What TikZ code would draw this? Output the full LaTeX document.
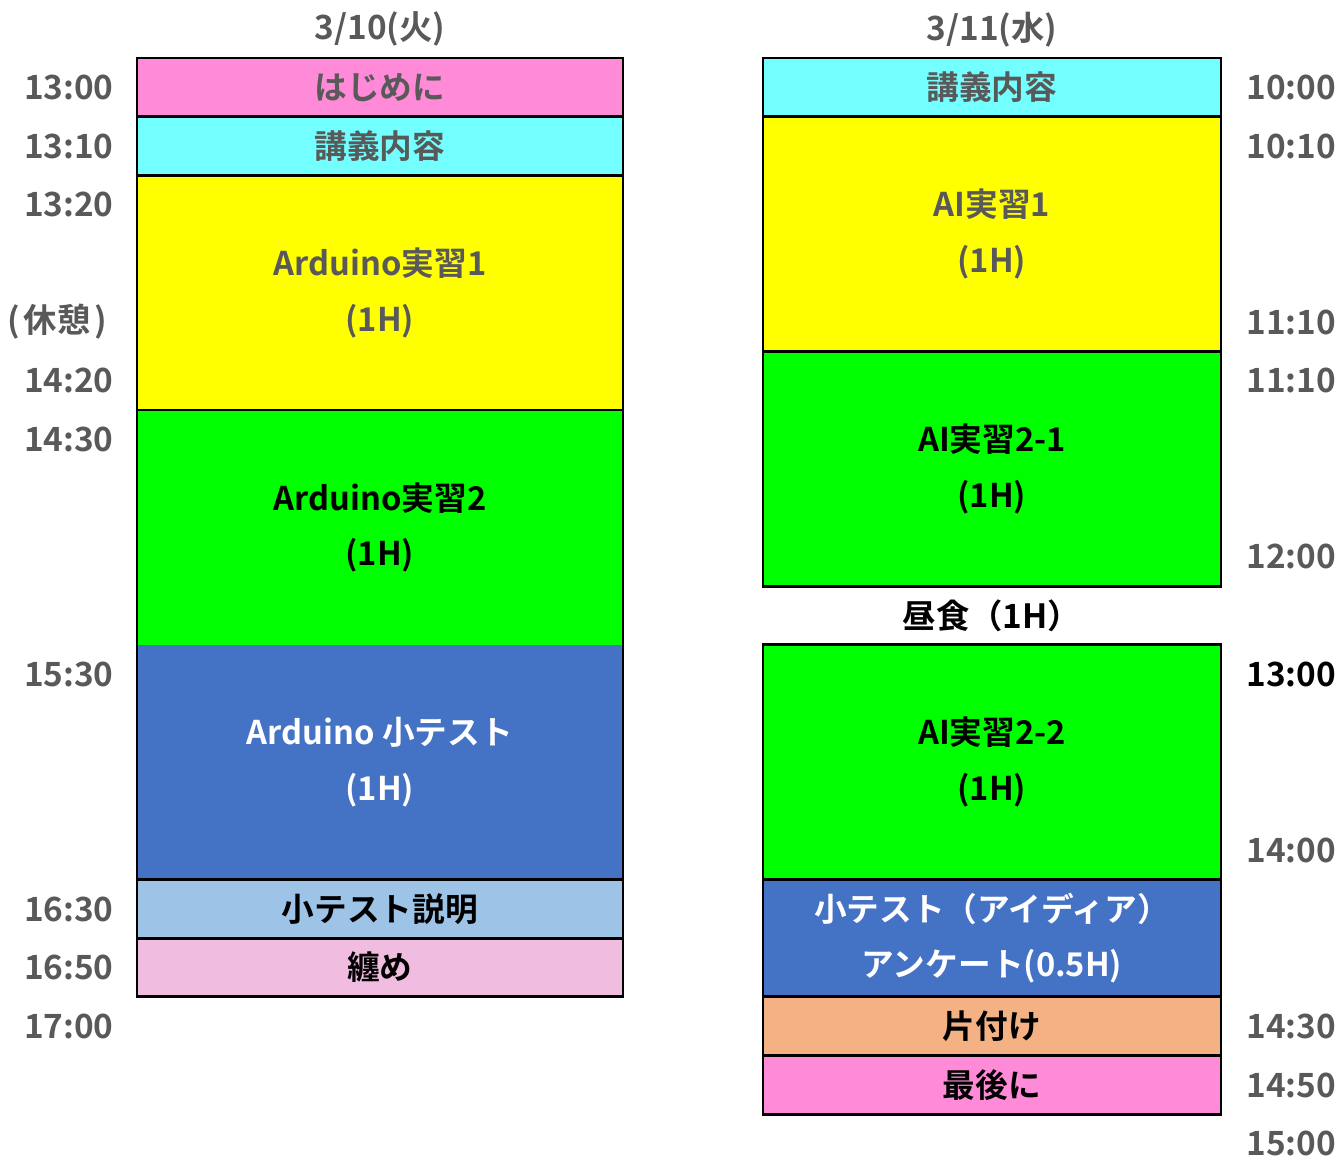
\documentclass[tikz,border=0pt]{standalone}
\usepackage{fontspec}
\newfontfamily\jpfont[BoldFont={Noto Sans CJK JP Bold}]{Noto Sans CJK JP}
\usetikzlibrary{positioning}

\definecolor{pinkbox}{HTML}{FF8AD8}
\definecolor{cyanbox}{HTML}{73FFFF}
\definecolor{yellowbox}{HTML}{FFFF00}
\definecolor{greenbox}{HTML}{00FF00}
\definecolor{bluebox}{HTML}{4472C4}
\definecolor{lightbluebox}{HTML}{9DC3E6}
\definecolor{lightpinkbox}{HTML}{F0BDE0}
\definecolor{orangebox}{HTML}{F4B183}
\definecolor{textgray}{HTML}{595959}

\tikzset{
  slot/.style={fill=#1, inner sep=0pt, outer sep=0pt, align=center,
    font=\jpfont\bfseries\fontsize{18.6}{31.7}\selectfont},
  lbox/.style={slot=#1, minimum width=9.72cm},
  rbox/.style={slot=#1, minimum width=9.16cm},
  slots/.style={minimum height=#1*1.1738cm},
  frame/.style={draw=black, line width=1.6pt},
  timelabel/.style={inner sep=0pt, text=textgray,
    font=\jpfont\bfseries\fontsize{19}{22}\selectfont},
  ltime/.style={timelabel, anchor=east},
  rtime/.style={timelabel, anchor=west},
  day/.style={inner sep=0pt, text=textgray,
    font=\jpfont\bfseries\fontsize{19}{22}\selectfont},
  plain/.style={inner sep=0pt, font=\jpfont\bfseries\fontsize{19}{31.7}\selectfont}
}

\begin{document}
\begin{tikzpicture}[x=0.02cm,y=-0.02cm]
\useasboundingbox (0,0) rectangle (1339,1161);

\node[day] (day1) at (380,29.3) {3/10(火)};
\node[day] (day2) at (992,29.3) {3/11(水)};

\node[lbox=pinkbox, slots=1, text=textgray, anchor=north west] (l1) at (137,58) {はじめに};
\node[lbox=cyanbox, slots=1, text=textgray, below=0pt of l1] (l2) {講義内容};
\node[lbox=yellowbox, slots=4, text=textgray, below=0pt of l2] (l3) {Arduino実習1\\(1H)};
\node[lbox=greenbox, slots=4, below=0pt of l3] (l4) {Arduino実習2\\(1H)};
\node[lbox=bluebox, slots=4, text=white, below=0pt of l4] (l5) {Arduino 小テスト\\(1H)};
\node[lbox=lightbluebox, slots=1, below=0pt of l5] (l6) {小テスト説明};
\node[lbox=lightpinkbox, slots=1, below=0pt of l6] (l7) {纏め};

\draw[frame] (l1.north west) rectangle (l7.south east);
\draw[frame] (l1.south west) -- (l1.south east);
\draw[frame] (l2.south west) -- (l2.south east);
\draw[frame] (l3.south west) -- (l3.south east);
\draw[frame] (l5.south west) -- (l5.south east);
\draw[frame] (l6.south west) -- (l6.south east);

\node[rbox=cyanbox, slots=1, text=textgray, anchor=north west] (r1) at (763,58) {講義内容};
\node[rbox=yellowbox, slots=4, text=textgray, below=0pt of r1] (r2) {AI実習1\\(1H)};
\node[rbox=greenbox, slots=4, below=0pt of r2] (r3) {AI実習2-1\\(1H)};
\node[rbox=greenbox, slots=4, below=1.1738cm of r3] (r4) {AI実習2-2\\(1H)};
\node[rbox=bluebox, slots=2, text=white, below=0pt of r4] (r5) {小テスト（アイディア）\\アンケート(0.5H)};
\node[rbox=orangebox, slots=1, below=0pt of r5] (r6) {片付け};
\node[rbox=pinkbox, slots=1, below=0pt of r6] (r7) {最後に};

\node[plain] (lunch) at (992,615.6) {昼食（1H）};

\draw[frame] (r1.north west) rectangle (r3.south east);
\draw[frame] (r1.south west) -- (r1.south east);
\draw[frame] (r2.south west) -- (r2.south east);
\draw[frame] (r4.north west) rectangle (r7.south east);
\draw[frame] (r4.south west) -- (r4.south east);
\draw[frame] (r5.south west) -- (r5.south east);
\draw[frame] (r6.south west) -- (r6.south east);

\node[ltime] (lt1300) at (114,87.3) {13:00};
\node[ltime] (lt1310) at (114,146.0) {13:10};
\node[ltime] (lt1320) at (114,204.7) {13:20};
\node[ltime] (ltrest) at (107,322.1) {(\hspace{2pt}休憩\hspace{2pt})};
\node[ltime] (lt1420) at (114,380.8) {14:20};
\node[ltime] (lt1430) at (114,439.5) {14:30};
\node[ltime] (lt1530) at (114,674.3) {15:30};
\node[ltime] (lt1630) at (114,909.1) {16:30};
\node[ltime] (lt1650) at (114,967.8) {16:50};
\node[ltime] (lt1700) at (114,1026.5) {17:00};

\node[rtime] (rt1000) at (1246,87.3) {10:00};
\node[rtime] (rt1010) at (1246,146.0) {10:10};
\node[rtime] (rt1110a) at (1246,322.1) {11:10};
\node[rtime] (rt1110b) at (1246,380.8) {11:10};
\node[rtime] (rt1200) at (1246,556.9) {12:00};
\node[rtime, text=black] (rt1300) at (1246,674.3) {13:00};
\node[rtime] (rt1400) at (1246,850.4) {14:00};
\node[rtime] (rt1430) at (1246,1026.5) {14:30};
\node[rtime] (rt1450) at (1246,1085.2) {14:50};
\node[rtime] (rt1500) at (1246,1143.9) {15:00};
\end{tikzpicture}
\end{document}
